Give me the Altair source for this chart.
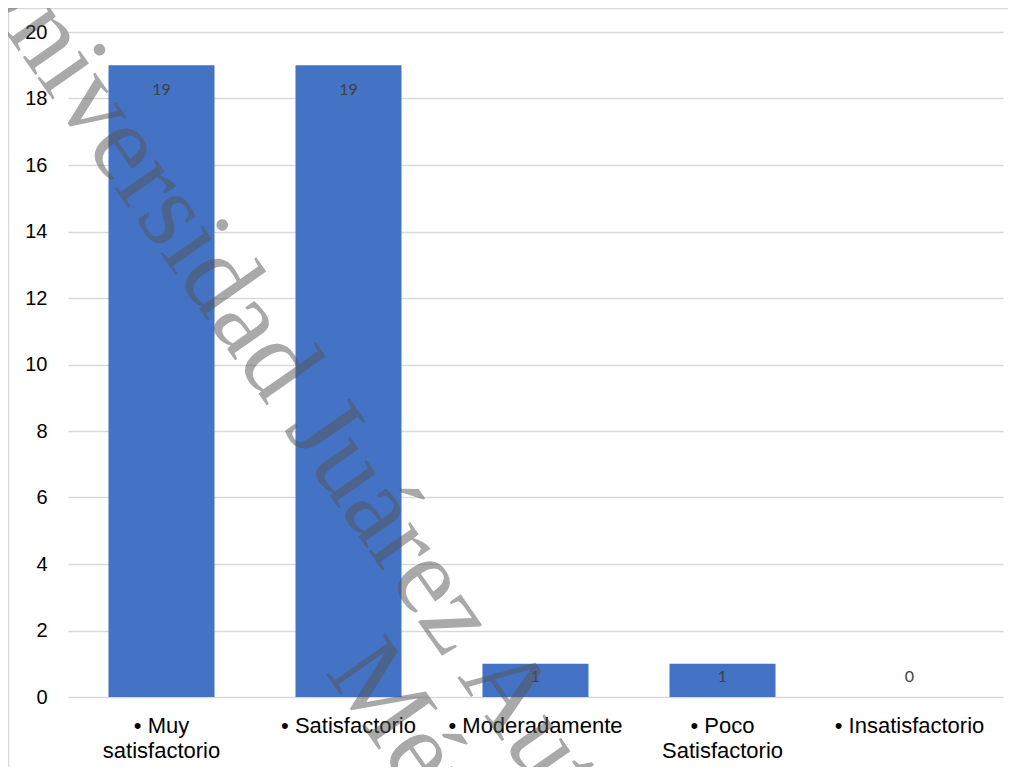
import altair as alt
import pandas as pd

categories = ["• Muy\nsatisfactorio", "• Satisfactorio", "• Moderadamente",
              "• Poco\nSatisfactorio", "• Insatisfactorio"]
values = [19, 19, 1, 1, 0]
y_ticks = [0, 2, 4, 6, 8, 10, 12, 14, 16, 18, 20]
watermark_lines = ["Universidad Juárez Autónoma de Tabasco", "México"]

df = pd.DataFrame({"cat": categories, "val": values})

W, H = 935, 665

x_enc = alt.X(
    "cat:N", sort=categories,
    scale=alt.Scale(paddingInner=0.433, paddingOuter=0.2165),
    axis=alt.Axis(title=None, labelAngle=0, labelExpr="split(datum.label, '\\n')",
                  labelFont="Liberation Sans", labelFontSize=22, labelColor="#000000",
                  labelLineHeight=25, labelPadding=18, labelBaseline="top",
                  ticks=False, domain=False, grid=False),
)
y_enc = alt.Y(
    "val:Q", scale=alt.Scale(domain=[0, 20]),
    axis=alt.Axis(title=None, values=y_ticks, grid=True, gridColor="#d9d9d9",
                  gridWidth=1.5, domain=False, ticks=False,
                  labelFont="Liberation Sans", labelFontSize=20, labelColor="#000000",
                  labelPadding=21),
)

bars = alt.Chart(df).mark_bar(color="#4472C4").encode(x=x_enc, y=y_enc)

labels = alt.Chart(df).transform_calculate(
    ly="max(datum.val - 0.75, 0.6)"
).mark_text(font="Lato", fontSize=16, color="#404040", baseline="middle").encode(
    x=alt.X("cat:N", sort=categories),
    y=alt.Y("ly:Q"),
    text="val:Q",
)

one = pd.DataFrame({"k": [0]})
wm1 = alt.Chart(pd.DataFrame({"t": [watermark_lines[0]]})).mark_text(
    angle=55, font="Liberation Serif", fontSize=110, color="#555555", opacity=0.5,
    align="center", baseline="middle"
).encode(text="t:N", x=alt.value(448), y=alt.value(672))
wm2 = alt.Chart(pd.DataFrame({"t": [watermark_lines[1]]})).mark_text(
    angle=55, font="Liberation Serif", fontSize=110, color="#555555", opacity=0.5,
    align="center", baseline="middle"
).encode(text="t:N", x=alt.value(380), y=alt.value(759))

top_border = alt.Chart(one).mark_rule(color="#d9d9d9", strokeWidth=1.5).encode(
    x=alt.value(-60), x2=alt.value(W + 5), y=alt.value(-23.5))
left_border = alt.Chart(one).mark_rule(color="#d9d9d9", strokeWidth=1.5).encode(
    x=alt.value(-59.5), y=alt.value(-24), y2=alt.value(H + 70))

chart = alt.layer(top_border, left_border, bars, labels, wm1, wm2).properties(
    width=W, height=H,
    autosize=alt.AutoSizeParams(type="none"),
    padding={"left": 60, "top": 24, "right": 5, "bottom": 70},
).configure_view(stroke=None)

chart.save("out.html", embed_options={"renderer": "svg", "actions": False})
